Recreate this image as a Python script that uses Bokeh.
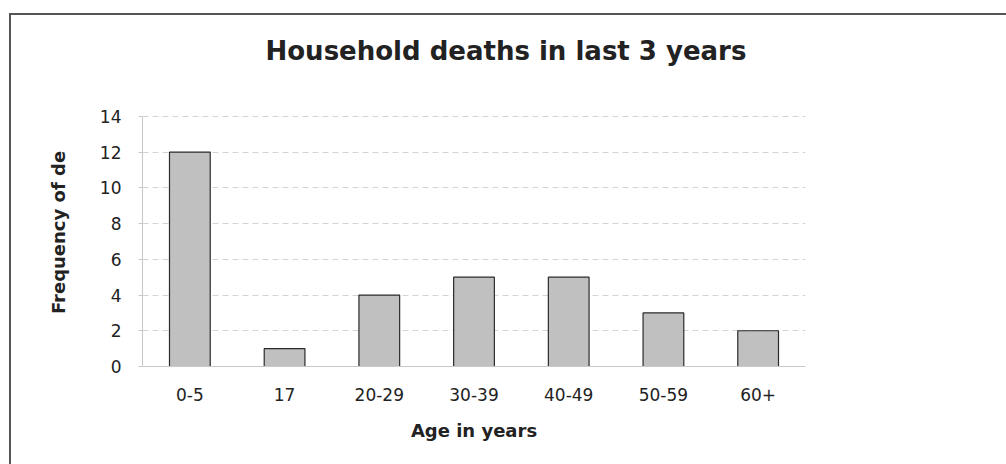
from bokeh.plotting import figure
from bokeh.models import FactorRange, Range1d, FixedTicker, Title
from bokeh.embed import file_html
from bokeh.resources import INLINE

categories = ["0-5", "17", "20-29", "30-39", "40-49", "50-59", "60+"]
deaths = [12, 1, 4, 5, 5, 3, 2]
y_ticks = [0, 2, 4, 6, 8, 10, 12, 14]
title_text = "Household deaths in last 3 years"

FONT = "DejaVu Sans"

p = figure(
    x_range=FactorRange(*categories, range_padding=0),
    y_range=Range1d(0, 15),
    width=1006, height=464,
    output_backend="svg", toolbar_location=None,
    min_border_left=142, min_border_right=201,
    min_border_top=98, min_border_bottom=98,
)
p.styles = {"box-shadow": "inset 0 13px 0 0 #ffffff, inset 9px 0 0 0 #ffffff, "
                          "inset 0 15px 0 0 #555555, inset 11px 0 0 0 #555555"}
p.outline_line_color = None
p.background_fill_color = "white"
p.border_fill_color = None

p.vbar(x=categories, top=deaths, width=0.43, fill_color="#c0c0c0",
       line_color="#2a2a2a", line_width=1.2)

t = Title(text=title_text, align="left",
          text_font=FONT, text_font_size="26px", text_font_style="bold",
          text_color="#222222", offset=123, standoff=66)
p.add_layout(t, "above")

p.yaxis.ticker = FixedTicker(ticks=y_ticks)
p.yaxis.bounds = (0, 14)
p.yaxis.axis_label = "Frequency of de"
p.yaxis.axis_label_text_font = FONT
p.yaxis.axis_label_text_font_size = "18px"
p.yaxis.axis_label_text_font_style = "bold"
p.yaxis.axis_label_text_color = "#222222"
p.yaxis.axis_label_standoff = 28
p.yaxis.major_label_text_font = FONT
p.yaxis.major_label_text_font_size = "17px"
p.yaxis.major_label_text_color = "#222222"
p.yaxis.major_label_standoff = 17
p.yaxis.axis_line_color = "#c8c8c8"
p.yaxis.major_tick_line_color = "#c8c8c8"
p.yaxis.major_tick_out = 4
p.yaxis.major_tick_in = 0
p.yaxis.minor_tick_line_color = None

p.xaxis.axis_label = "Age in years"
p.xaxis.axis_label_text_font = FONT
p.xaxis.axis_label_text_font_size = "18px"
p.xaxis.axis_label_text_font_style = "bold"
p.xaxis.axis_label_text_color = "#222222"
p.xaxis.axis_label_standoff = 16
p.xaxis.major_label_text_font = FONT
p.xaxis.major_label_text_font_size = "17px"
p.xaxis.major_label_text_color = "#222222"
p.xaxis.major_label_standoff = 15
p.xaxis.axis_line_color = "#c8c8c8"
p.xaxis.major_tick_line_color = None
p.xaxis.minor_tick_line_color = None

p.xgrid.grid_line_color = None
p.ygrid.grid_line_color = "#d4d4d4"
p.ygrid.grid_line_dash = "6 4"
p.ygrid.ticker = FixedTicker(ticks=y_ticks)

open("out.html", "w").write(file_html(p, INLINE))
